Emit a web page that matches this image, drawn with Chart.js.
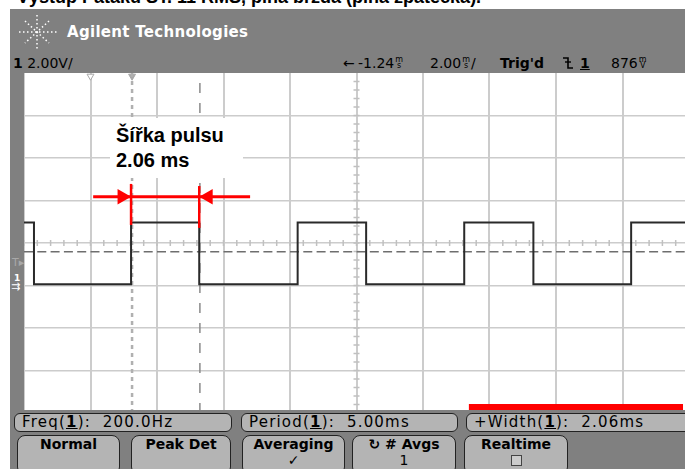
<!DOCTYPE html>
<html>
<head>
<meta charset="utf-8">
<script src="https://cdn.jsdelivr.net/npm/chart.js@4.4.0/dist/chart.umd.min.js"></script>
<style>
  html, body { margin: 0; padding: 0; width: 685px; height: 469px; overflow: hidden; background: #fff; font-family: "DejaVu Sans", sans-serif; }
  #page { position: relative; width: 685px; height: 469px; overflow: hidden; }
  .abs { position: absolute; white-space: nowrap; }
  #title { left: 17px; top: -13px; font: bold 18px "Liberation Sans", Arial, sans-serif; line-height: 20px; color: #000; }
  #header { left: 10px; top: 9px; width: 675px; height: 64px; background: #808080; }
  #strip { left: 10px; top: 73px; width: 14px; height: 340px; background: #808080; }
  #bottom { left: 10px; top: 410px; width: 675px; height: 59px; background: #808080; }
  #chartBox { left: 24px; top: 73px; width: 665px; height: 340px; }
  #brand { left: 67px; top: 23px; color: #fff; font: bold 15px "DejaVu Sans", sans-serif; letter-spacing: 0.3px; line-height: 18px; }
  .row { top: 55px; font-size: 14px; line-height: 16px; color: #000; }
  .u { display: inline-block; font-size: 8px; line-height: 6px; vertical-align: top; margin: 2px 1px 0 1px; text-align: center; }
  .u span { display: block; }
  #note { left: 110px; top: 118px; width: 133px; height: 60px; background: #fff; font: bold 20px "Liberation Sans", Arial, sans-serif; line-height: 25px; padding: 5px 0 0 6px; box-sizing: border-box; color: #000; }
  .meas { top: 413px; height: 19px; background: #b4b4b4; border: 1px solid #222; border-radius: 6px; box-sizing: border-box; font-size: 15px; line-height: 17px; padding-left: 7px; letter-spacing: 1.2px; }
  .btn { top: 435px; height: 40px; background: #b4b4b4; border: 1px solid #222; border-radius: 8px; box-sizing: border-box; font-weight: bold; font-size: 14px; text-align: center; line-height: 16px; }
  .btn small { display: block; font-size: 14px; font-weight: normal; }
  .box { display: inline-block; width: 9px; height: 9px; border: 1px solid #444; background: #ccc; margin-top: 3px; }
</style>
</head>
<body>
<div id="page">
  <div id="title" class="abs">Výstup Pataku ST. 11 RMS, plná brzda (plná zpátečka).</div>
  <div id="header" class="abs"></div>
  <svg class="abs" style="left:18px;top:14px" width="40" height="36" viewBox="0 0 40 36">
    <g stroke="#fff" stroke-width="1.5" stroke-dasharray="1.5 2.5" fill="none">
      <line x1="1" y1="18" x2="39" y2="18"/>
      <line x1="19" y1="1" x2="19" y2="35"/>
      <line x1="7" y1="7" x2="31" y2="29"/>
      <line x1="31" y1="7" x2="7" y2="29"/>
    </g>
  </svg>
  <div id="brand" class="abs">Agilent Technologies</div>
  <div class="abs row" style="left:13px"><b>1</b> 2.00V/</div>
  <div class="abs row" style="left:343px">←</div>
  <div class="abs row" style="left:358px">-1.24<span class="u"><span>m</span><span>s</span></span></div>
  <div class="abs row" style="left:430px">2.00<span class="u"><span>m</span><span>s</span></span>/</div>
  <div class="abs row" style="left:500px;font-weight:bold">Trig'd</div>
  <svg class="abs" style="left:562px;top:56px" width="12" height="14" viewBox="0 0 12 14">
    <path d="M1 2 H6 V12 H11" stroke="#000" stroke-width="1.6" fill="none"/>
    <path d="M3 6 H9" stroke="#000" stroke-width="1.4"/>
  </svg>
  <div class="abs row" style="left:580px;font-weight:bold;text-decoration:underline">1</div>
  <div class="abs row" style="left:611px">876<span class="u"><span>m</span><span>V</span></span></div>

  <div id="strip" class="abs"></div>
  <div class="abs" style="left:12px;top:257px;font-size:11px;color:#a8a8a8;line-height:12px">T▸</div>
  <div class="abs" style="left:14px;top:273px;font-size:9px;color:#fff;line-height:10px;font-weight:bold">1</div>
  <div class="abs" style="left:11px;top:282px;font-size:11px;color:#fff;line-height:10px">⇉</div>

  <div id="chartBox" class="abs"><canvas id="scope" width="665" height="340"></canvas></div>

  <div id="note" class="abs">Šířka pulsu<br>2.06 ms</div>

  <div id="bottom" class="abs"></div>
  <div class="abs meas" style="left:14px;width:218px">Freq(<b><u>1</u></b>):&nbsp; 200.0Hz</div>
  <div class="abs meas" style="left:241px;width:217px">Period(<b><u>1</u></b>):&nbsp; 5.00ms</div>
  <div class="abs meas" style="left:466px;width:230px">+Width(<b><u>1</u></b>):&nbsp; 2.06ms</div>
  <div class="abs btn" style="left:17px;width:103px">Normal</div>
  <div class="abs btn" style="left:131px;width:100px">Peak Det</div>
  <div class="abs btn" style="left:242px;width:103px">Averaging<small>✓</small></div>
  <div class="abs btn" style="left:352px;width:104px">↻ # Avgs<small>1</small></div>
  <div class="abs btn" style="left:464px;width:104px">Realtime<br><span class="box"></span></div>
</div>

<script>
// screen: 2 ms/div horizontally, 2 V/div vertically
const timeRange = [0, 20];
const voltRange = [-8, 8];

// channel 1 square wave (transition times in ms, level after each)
const traceTimes = [0, 0.30, 3.22, 5.27, 8.23, 10.29, 13.24, 15.32, 18.26, 20];
const traceVolts = [0.97, -1.94, 0.97, -1.94, 0.97, -1.94, 0.97, -1.94, 0.97, 0.97];

const triggerVolts = -0.41;
const cursorTimes = [3.25, 5.29];
const markerTimes = [2.0, 3.25];
const markerVolts = 7.85;

// red pulse width annotation
const widthLineTimes = [2.08, 6.80];
const widthLineVolts = 2.18;
const edgeTimes = [3.22, 5.27];
const edgeTops = [2.78, 2.68];
const edgeBottoms = [0.85, 0.71];
const arrowTimes = [2.95, 5.54];
const barTimes = [13.38, 19.82];
const barVolts = -7.74;

const gridColor = "#cccccc";

// small division ticks on the centre lines
const centreTicks = {
  id: "centreTicks",
  beforeDatasetsDraw(chart) {
    const { ctx, scales: { x, y } } = chart;
    const x0 = x.getPixelForValue((x.min + x.max) / 2);
    const y0 = y.getPixelForValue((y.min + y.max) / 2);
    ctx.save();
    ctx.strokeStyle = "#c0c0c0";
    ctx.lineWidth = 1.5;
    ctx.beginPath();
    for (let t = x.min; t <= x.max; t += 0.4) {
      const px = x.getPixelForValue(t);
      ctx.moveTo(px, y0 - 3);
      ctx.lineTo(px, y0 + 3);
    }
    for (let v = y.min; v <= y.max; v += 0.4) {
      const py = y.getPixelForValue(v);
      ctx.moveTo(x0 - 3, py);
      ctx.lineTo(x0 + 3, py);
    }
    ctx.stroke();
    ctx.restore();
  }
};

const vline = (t, a, b) => [{ x: t, y: a }, { x: t, y: b }];

new Chart(document.getElementById("scope"), {
  type: "line",
  data: {
    datasets: [
      {
        data: widthLineTimes.map(t => ({ x: t, y: widthLineVolts })),
        borderColor: "#ff0000", borderWidth: 3, pointRadius: 0, order: 0
      },
      {
        data: arrowTimes.map(t => ({ x: t, y: widthLineVolts })),
        showLine: false, pointStyle: "triangle", pointRadius: 9, pointRotation: [90, 270],
        pointBackgroundColor: "#ff0000", pointBorderWidth: 0, order: 0
      },
      {
        data: vline(edgeTimes[0], edgeBottoms[0], edgeTops[0]),
        borderColor: "#ff0000", borderWidth: 2.5, pointRadius: 0, order: 0
      },
      {
        data: vline(edgeTimes[1], edgeBottoms[1], edgeTops[1]),
        borderColor: "#ff0000", borderWidth: 2.5, pointRadius: 0, order: 0
      },
      {
        data: barTimes.map(t => ({ x: t, y: barVolts })),
        borderColor: "#ff0000", borderWidth: 7, borderCapStyle: "butt", pointRadius: 0, order: 0
      },
      {
        data: traceTimes.map((t, i) => ({ x: t, y: traceVolts[i] })),
        stepped: "before", borderColor: "#2a2a2a", borderWidth: 2, pointRadius: 0, order: 1
      },
      {
        data: vline(cursorTimes[0], voltRange[0], voltRange[1]),
        borderColor: "#b0b0b0", borderWidth: 2.5, borderDash: [4, 4], pointRadius: 0, order: 2
      },
      {
        data: vline(cursorTimes[1], voltRange[0], voltRange[1]),
        borderColor: "#8a8a8a", borderWidth: 1.5, borderDash: [10, 10], pointRadius: 0, order: 2
      },
      {
        data: markerTimes.map(t => ({ x: t, y: markerVolts })),
        showLine: false, pointStyle: "triangle", pointRadius: 4, pointRotation: 180,
        pointBackgroundColor: ["#ffffff", "#a8a8a8"], pointBorderColor: "#a8a8a8", pointBorderWidth: 1, order: 2
      },
      {
        data: timeRange.map(t => ({ x: t, y: triggerVolts })),
        borderColor: "#6e6e6e", borderWidth: 1.5, borderDash: [9, 4.3], pointRadius: 0, order: 3
      }
    ]
  },
  options: {
    responsive: false,
    devicePixelRatio: 1,
    animation: false,
    layout: { padding: 0, autoPadding: false },
    plugins: { legend: { display: false }, tooltip: { enabled: false } },
    scales: {
      x: {
        type: "linear", min: timeRange[0], max: timeRange[1],
        ticks: { display: false, stepSize: 2 },
        border: { display: false },
        grid: { color: gridColor, lineWidth: 2, drawTicks: false }
      },
      y: {
        type: "linear", min: voltRange[0], max: voltRange[1],
        ticks: { display: false, stepSize: 2 },
        border: { display: false },
        grid: {
          color: c => (c.tick && c.tick.value === voltRange[1] ? "rgba(0,0,0,0)" : gridColor),
          lineWidth: 1.5, drawTicks: false
        }
      }
    }
  },
  plugins: [centreTicks]
});
</script>
</body>
</html>
